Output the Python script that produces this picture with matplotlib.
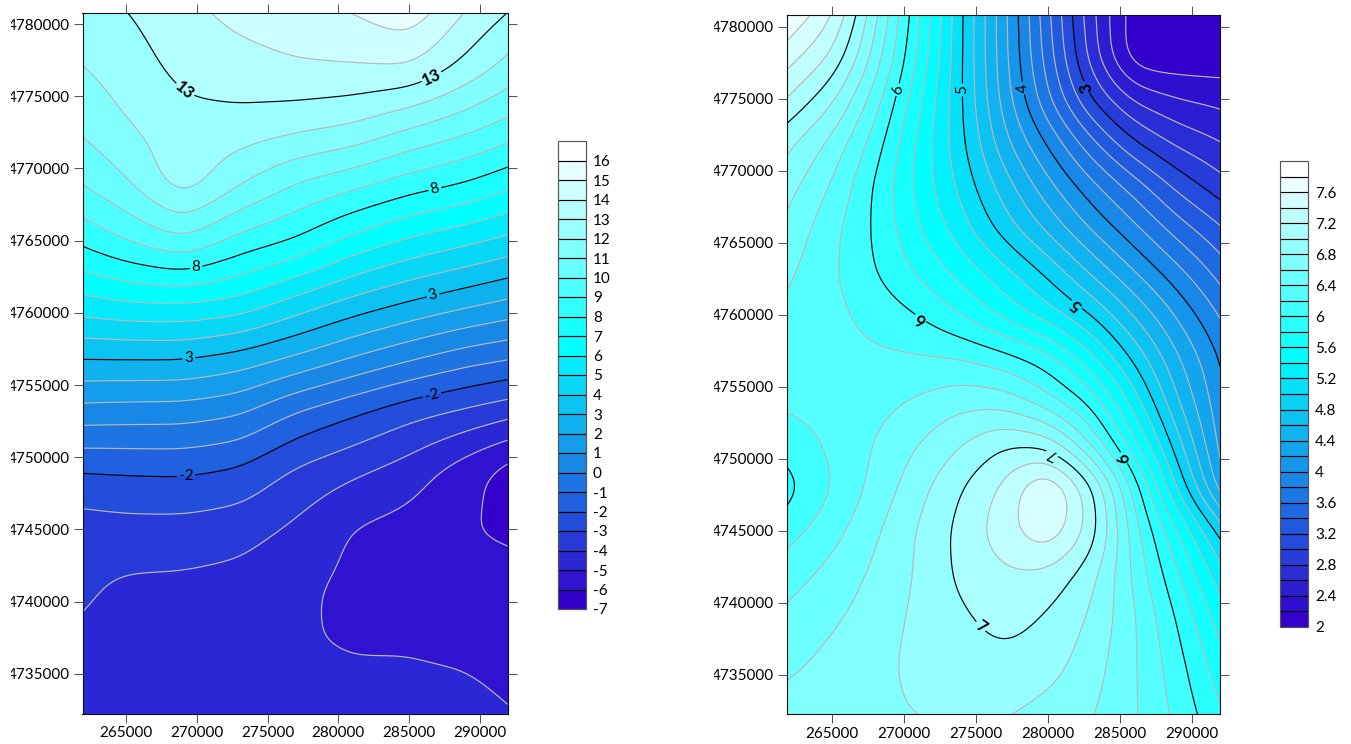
import numpy as np
import matplotlib
matplotlib.use('Agg')
from matplotlib import pyplot as plt
from matplotlib.colors import LinearSegmentedColormap
from matplotlib.transforms import Bbox, TransformedBbox

plt.rcParams['font.family'] = ['Lato', 'DejaVu Sans']

W, H = 1351, 744

x_ticks = [265000, 270000, 275000, 280000, 285000, 290000]
y_ticks = [4735000, 4740000, 4745000, 4750000, 4755000, 4760000, 4765000, 4770000, 4775000, 4780000]

# left map, values, rows from top to bottom
x_left = [261900, 265000, 269000, 273000, 277000, 281000, 285000, 289000, 291960]
y_left = [4780800, 4777000, 4773000, 4769000, 4765000, 4761000, 4757000,
          4753000, 4749000, 4745000, 4741000, 4737000, 4732250]
z_left = [
    [12.7, 12.95, 13.7, 14.3, 14.6, 15.0, 15.7, 13.9, 13.0],
    [11.97, 12.5, 13.3, 13.6, 13.9, 13.95, 14.0, 12.7, 11.7],
    [11.23, 11.95, 12.65, 12.65, 12.35, 12.0, 11.15, 10.4, 9.75],
    [10.1, 10.9, 12.7, 11.13, 10.0, 9.35, 8.55, 8.0, 7.35],
    [8.26, 9.04, 9.9, 8.65, 7.95, 6.7, 5.85, 5.25, 4.75],
    [5.86, 6.2, 6.3, 5.95, 4.85, 3.9, 3.15, 2.5, 2.05],
    [3.14, 3.15, 3.15, 2.7, 1.95, 1.05, 0.25, -0.47, -0.8],
    [0.5, 0.43, 0.4, 0.04, -1.15, -1.95, -2.75, -3.3, -3.75],
    [-2.04, -1.96, -1.9, -2.2, -3.2, -3.85, -4.5, -5.6, -6.5],
    [-3.55, -3.4, -3.4, -3.6, -4.2, -5.1, -5.4, -6.0, -6.1],
    [-3.85, -4.2, -4.25, -4.4, -4.85, -5.2, -5.5, -5.65, -5.75],
    [-4.2, -4.35, -4.4, -4.5, -4.95, -5.05, -5.05, -5.2, -5.45],
    [-4.45, -4.5, -4.5, -4.55, -4.6, -4.75, -4.7, -4.65, -4.93],
]
levels_left = list(range(-7, 18))
major_left = [-2, 3, 8, 13]
bar_ticks_left = list(range(-7, 17))
labels_left = [(269000, 4775220), (286690, 4776120), (286900, 4768230), (269920, 4763240),
               (286690, 4761230), (269420, 4756870), (286620, 4754300), (269210, 4748840)]
label_rot_left = [-40, 25, 15, 0, 15, 0, 15, 0]
label_bold_left = [True, True, False, False, False, False, False, False]

# right map
x_right = [261840, 265000, 268000, 271000, 274000, 277000, 280000, 283000, 286000, 289000, 291944]
y_right = [4780830, 4778000, 4775000, 4772000, 4769000, 4766000, 4763000, 4760000, 4757000,
           4754000, 4751000, 4748000, 4745000, 4742000, 4739000, 4736000, 4732260]
z_right = [
    [7.78, 7.44, 6.65, 5.83, 5.02, 4.25, 3.45, 2.65, 2.05, 2.05, 2.05],
    [7.5, 7.2, 6.53, 5.77, 5.02, 4.25, 3.5, 2.7, 2.02, 2.03, 2.05],
    [7.2, 6.85, 6.3, 5.65, 5.02, 4.3, 3.63, 2.98, 2.55, 2.4, 2.34],
    [6.85, 6.55, 6.11, 5.55, 5.05, 4.45, 3.97, 3.45, 3.0, 2.74, 2.6],
    [6.68, 6.39, 5.97, 5.53, 5.14, 4.69, 4.26, 3.86, 3.5, 3.13, 2.88],
    [6.55, 6.26, 5.97, 5.61, 5.28, 4.9, 4.55, 4.18, 3.85, 3.5, 3.23],
    [6.44, 6.23, 6.0, 5.77, 5.52, 5.26, 4.95, 4.56, 4.2, 3.86, 3.52],
    [6.35, 6.26, 6.13, 6.0, 5.79, 5.53, 5.29, 5.0, 4.58, 4.17, 3.79],
    [6.29, 6.25, 6.24, 6.22, 6.2, 6.08, 5.89, 5.46, 4.95, 4.42, 3.99],
    [6.24, 6.27, 6.33, 6.43, 6.54, 6.52, 6.27, 5.95, 5.3, 4.6, 4.07],
    [6.1, 6.23, 6.41, 6.6, 6.8, 7.0, 6.95, 6.38, 5.66, 4.87, 4.15],
    [5.9, 6.2, 6.46, 6.73, 7.0, 7.25, 7.7, 7.1, 6.13, 5.16, 4.3],
    [6.12, 6.32, 6.57, 6.82, 7.07, 7.33, 7.6, 7.15, 6.28, 5.62, 4.95],
    [6.3, 6.47, 6.64, 6.82, 7.06, 7.17, 7.15, 6.88, 6.36, 5.82, 5.3],
    [6.45, 6.57, 6.69, 6.85, 6.97, 7.08, 6.98, 6.78, 6.43, 5.98, 5.51],
    [6.55, 6.65, 6.74, 6.86, 6.92, 6.96, 6.9, 6.7, 6.43, 6.07, 5.68],
    [6.68, 6.72, 6.77, 6.8, 6.83, 6.82, 6.73, 6.62, 6.43, 6.15, 5.83],
]
levels_right = [round(2 + 0.2 * i, 1) for i in range(31)]
major_right = [3, 4, 5, 6, 7]
bar_ticks_right = [2, 2.4, 2.8, 3.2, 3.6, 4, 4.4, 4.8, 5.2, 5.6, 6, 6.4, 6.8, 7.2, 7.6]
labels_right = [(269650, 4775620), (274170, 4775620), (278330, 4775760), (282710, 4775830),
                (271250, 4759910), (282080, 4760820), (285350, 4750110), (280280, 4750320),
                (275420, 4738440)]
label_rot_right = [80, 90, 97, 105, 155, 140, 110, 155, -35]
label_bold_right = [False, False, False, True, True, True, True, False, True]

cmap_left = LinearSegmentedColormap.from_list('m', [(0, '#3300cc'), (13 / 23, '#00ffff'), (1, '#ffffff')])
cmap_right = LinearSegmentedColormap.from_list('m', [(0, '#3300cc'), (17 / 29, '#00ffff'), (1, '#ffffff')])


def box(x0, y0, x1, y1):
    return [x0 / W, 1 - y1 / H, (x1 - x0) / W, (y1 - y0) / H]


def blur(a, sigma=14):
    # only to round off the read grid, the grid is about one pixel per cell
    r = int(3 * sigma)
    k = np.exp(-0.5 * (np.arange(-r, r + 1) / sigma) ** 2)
    k = k / k.sum()
    for axis in (0, 1):
        a = np.apply_along_axis(
            lambda v: np.convolve(np.pad(v, r, mode='reflect', reflect_type='odd'), k, mode='valid'), axis, a)
    return a


def fine_field(xs, ys, zs, nx, ny):
    fx = np.linspace(xs[0], xs[-1], nx)
    fy = np.linspace(ys[-1], ys[0], ny)
    zs = np.array(zs)[::-1]
    by_col = np.array([np.interp(fy, ys[::-1], zs[:, j]) for j in range(len(xs))])
    z = np.array([np.interp(fx, xs, by_col[:, i]) for i in range(ny)])
    return fx, fy, blur(z)


def draw_map(rect, bar_rect, clip_x, xs, ys, zs, levels, major, bar_ticks, cmap, lab_pos, lab_rot, lab_bold):
    ax = fig.add_axes(box(*rect))
    fx, fy, fz = fine_field(xs, ys, zs, int(rect[2] - rect[0]), int(rect[3] - rect[1]))
    fz = np.clip(fz, levels[0] + 0.01, levels[-1] - 0.01)  # no holes outside the colour range

    half = (levels[1] - levels[0]) / 2
    cf = ax.contourf(fx, fy, fz, levels=levels, cmap=cmap, vmin=levels[0] + half, vmax=levels[-1] - half)
    minor = [v for v in levels if v not in major]
    ax.contour(fx, fy, fz, levels=minor, colors='#b8b8b8', linewidths=0.85, negative_linestyles='solid')
    cs = ax.contour(fx, fy, fz, levels=major, colors='black', linewidths=0.85, negative_linestyles='solid')

    texts = ax.clabel(cs, major, manual=lab_pos, fontsize=11, inline=True, inline_spacing=2, fmt='%g')
    for t, rot, bold in zip(texts, lab_rot, lab_bold):
        t.set_rotation(rot)
        t.set_rotation_mode('anchor')
        t.set_ha('center')
        t.set_va('center')
        t.set_color('black')
        if bold:
            t.set_fontweight('bold')
            t.set_fontsize(12)

    ax.set_xlim(xs[0], xs[-1])
    ax.set_ylim(ys[-1], ys[0])
    ax.set_xticks(x_ticks)
    ax.set_yticks(y_ticks)
    ax.xaxis.set_major_formatter('{x:.0f}')
    ax.yaxis.set_major_formatter('{x:.0f}')
    ax.tick_params(top=True, right=True, length=6.8, width=0.75, color='#555555', labelsize=11, pad=2.5)
    for s in ax.spines.values():
        s.set_linewidth(0.8)
        s.set_color('#111111')

    # the left digit of the y labels is cut off in the original
    clip = TransformedBbox(Bbox([[clip_x / W, 0], [1, 1]]), fig.transFigure)
    for lab in ax.get_yticklabels():
        lab.set_clip_on(True)
        lab.set_clip_box(clip)

    cax = fig.add_axes(box(*bar_rect))
    cb = fig.colorbar(cf, cax=cax, ticks=bar_ticks, drawedges=True)
    cb.ax.set_yticklabels(['%g' % v for v in bar_ticks])
    cb.ax.tick_params(length=0, labelsize=11, pad=5)
    cb.dividers.set_color('black')
    cb.dividers.set_linewidth(0.85)
    cb.outline.set_edgecolor('#555555')
    cb.outline.set_linewidth(0.85)


fig = plt.figure(figsize=(W / 100, H / 100), dpi=100)

draw_map((82.5, 12.5, 507.5, 713.5), (558, 141, 586, 609), 11, x_left, y_left, z_left,
         levels_left, major_left, bar_ticks_left, cmap_left, labels_left, label_rot_left, label_bold_left)
draw_map((786.5, 15, 1220, 714), (1279.5, 161, 1308, 627), 714, x_right, y_right, z_right,
         levels_right, major_right, bar_ticks_right, cmap_right, labels_right, label_rot_right, label_bold_right)

fig.savefig('out.png', dpi=100)
